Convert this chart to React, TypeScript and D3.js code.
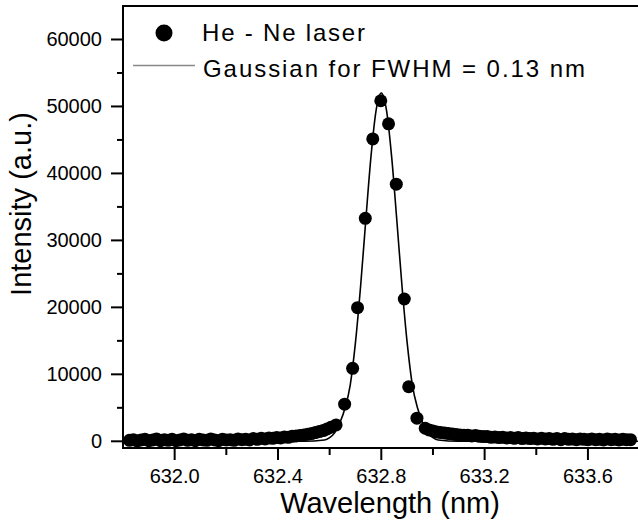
import React, {useEffect, useRef} from "react";
import * as d3 from "d3";

// He-Ne laser line, measured points (nm, counts)
const wavelength = [
    631.825, 631.840, 631.855, 631.870, 631.885, 631.900, 631.915, 631.930, 631.945, 631.960,
    631.975, 631.990, 632.005, 632.020, 632.035, 632.050, 632.065, 632.080, 632.095, 632.110,
    632.125, 632.140, 632.155, 632.170, 632.185, 632.200, 632.215, 632.230, 632.245, 632.260,
    632.275, 632.290, 632.305, 632.320, 632.335, 632.350, 632.365, 632.380, 632.395, 632.410,
    632.425, 632.440, 632.455, 632.470, 632.485, 632.500, 632.515, 632.530, 632.545, 632.560,
    632.575, 632.590, 632.605, 632.625,
    632.658, 632.689, 632.708, 632.738, 632.767, 632.798, 632.828, 632.858, 632.889, 632.906,
    632.938, 632.970,
    632.985, 633.000, 633.015, 633.030, 633.045, 633.060, 633.075, 633.090, 633.105, 633.120,
    633.135, 633.150, 633.165, 633.180, 633.195, 633.210, 633.225, 633.240, 633.255, 633.270,
    633.285, 633.300, 633.315, 633.330, 633.345, 633.360, 633.375, 633.390, 633.405, 633.420,
    633.435, 633.450, 633.465, 633.480, 633.495, 633.510, 633.525, 633.540, 633.555, 633.570,
    633.585, 633.600, 633.615, 633.630, 633.645, 633.660, 633.675, 633.690, 633.705, 633.720,
    633.735, 633.750, 633.765
];
const intensity = [
    150, 250, 50, 200, 300, 100, 200, 350, 100, 250,
    150, 300, 100, 200, 350, 150, 250, 100, 300, 200,
    150, 350, 200, 100, 300, 200, 250, 150, 350, 250,
    300, 200, 400, 300, 450, 350, 500, 450, 550, 500,
    650, 600, 750, 800, 850, 950, 1050, 1150, 1300, 1450,
    1600, 1850, 2100, 2450,
    5550, 10900, 19950, 33300, 45150, 50850, 47400, 38400, 21250, 8150,
    3450, 1950,
    1700, 1550, 1400, 1300, 1250, 1150, 1100, 1000, 950, 900,
    900, 800, 850, 750, 700, 700, 600, 650, 550, 600,
    500, 550, 450, 550, 400, 500, 400, 450, 350, 450,
    350, 400, 300, 400, 250, 400, 300, 350, 250, 350,
    300, 250, 350, 250, 300, 200, 350, 250, 300, 200,
    300, 250, 250
];

// Gaussian curve
const gaussWavelength = [
    631.80, 632.50, 632.58, 632.60, 632.62, 632.64, 632.66, 632.68, 632.70, 632.72,
    632.74, 632.76, 632.78, 632.80, 632.82, 632.84, 632.86, 632.88, 632.90, 632.92,
    632.94, 632.96, 632.98, 633.00, 633.02, 633.10, 633.80
];
const gaussIntensity = [
    0, 0, 200, 550, 1300, 2800, 5000, 8480, 14760, 23220,
    33050, 42500, 49450, 52000, 49450, 42500, 33050, 23220, 14760, 8480,
    5000, 2800, 1300, 550, 200, 0, 0
];

const xTicks = [632.0, 632.4, 632.8, 633.2, 633.6];
const xMinorTicks = [632.2, 632.6, 633.0, 633.4];
const yTicks = [0, 10000, 20000, 30000, 40000, 50000, 60000];
const yMinorTicks = [5000, 15000, 25000, 35000, 45000, 55000];

const FONT = "'Liberation Sans', Arial, Helvetica, sans-serif";

const App = () => {
    const ref = useRef<SVGSVGElement>(null);

    useEffect(() => {
        const w = 638;
        const h = 524;
        const svg = d3.select(ref.current);
        svg.selectAll("*").remove();
        svg.attr("width", w).attr("height", h);

        const left = 123, top = 6, bottom = 448, right = 639.6;

        const x = d3.scaleLinear().domain([631.8, 633.8]).range([left, right]);
        const y = d3.scaleLinear().domain([-1000, 65000]).range([bottom, top]);

        // gaussian line
        const line = d3.line<number>()
            .x((d, i) => x(gaussWavelength[i]))
            .y(d => y(d))
            .curve(d3.curveMonotoneX);
        svg.append("path")
            .attr("d", line(gaussIntensity))
            .attr("fill", "none")
            .attr("stroke", "#000")
            .attr("stroke-width", 1.6);

        // data points
        svg.selectAll("circle.pt")
            .data(intensity)
            .enter()
            .append("circle")
            .attr("class", "pt")
            .attr("cx", (d, i) => x(wavelength[i]))
            .attr("cy", d => y(d))
            .attr("r", 6.5)
            .attr("fill", "#000");

        // axes frame
        const axes = svg.append("g").attr("stroke", "#000").attr("stroke-width", 2);
        axes.append("line").attr("x1", left).attr("x2", w).attr("y1", top).attr("y2", top);
        axes.append("line").attr("x1", left).attr("x2", w).attr("y1", bottom).attr("y2", bottom);
        axes.append("line").attr("x1", left).attr("x2", left).attr("y1", top - 1).attr("y2", bottom + 1);

        // x ticks
        axes.selectAll("line.xt").data(xTicks).enter().append("line")
            .attr("x1", d => x(d)).attr("x2", d => x(d))
            .attr("y1", bottom).attr("y2", bottom + 12);
        axes.selectAll("line.xm").data(xMinorTicks).enter().append("line")
            .attr("x1", d => x(d)).attr("x2", d => x(d))
            .attr("y1", bottom).attr("y2", bottom + 7);
        svg.selectAll("text.xl").data(xTicks).enter().append("text")
            .attr("x", d => x(d)).attr("y", 483)
            .attr("text-anchor", "middle")
            .attr("font-family", FONT).attr("font-size", 20)
            .text(d => d.toFixed(1));

        // y ticks
        axes.selectAll("line.yt").data(yTicks).enter().append("line")
            .attr("x1", left - 12).attr("x2", left)
            .attr("y1", d => y(d)).attr("y2", d => y(d));
        axes.selectAll("line.ym").data(yMinorTicks).enter().append("line")
            .attr("x1", left - 6).attr("x2", left)
            .attr("y1", d => y(d)).attr("y2", d => y(d));
        svg.selectAll("text.yl").data(yTicks).enter().append("text")
            .attr("x", 102).attr("y", d => y(d) + 7)
            .attr("text-anchor", "end")
            .attr("font-family", FONT).attr("font-size", 20)
            .text(d => String(d));

        // axis titles
        svg.append("text")
            .attr("x", 390).attr("y", 513)
            .attr("text-anchor", "middle")
            .attr("font-family", FONT).attr("font-size", 29)
            .text("Wavelength (nm)");
        svg.append("text")
            .attr("transform", "translate(31,204) rotate(-90)")
            .attr("text-anchor", "middle")
            .attr("font-family", FONT).attr("font-size", 29)
            .text("Intensity (a.u.)");

        // legend
        svg.append("circle").attr("cx", 164).attr("cy", 33).attr("r", 8.5).attr("fill", "#000");
        svg.append("line")
            .attr("x1", 133).attr("x2", 195).attr("y1", 65.5).attr("y2", 65.5)
            .attr("stroke", "#888").attr("stroke-width", 1.5);
        svg.append("text")
            .attr("x", 202).attr("y", 41)
            .attr("font-family", FONT).attr("font-size", 24)
            .attr("textLength", 163).attr("lengthAdjust", "spacing")
            .text("He - Ne laser");
        svg.append("text")
            .attr("x", 203).attr("y", 77)
            .attr("font-family", FONT).attr("font-size", 24)
            .attr("textLength", 382).attr("lengthAdjust", "spacing")
            .text("Gaussian for FWHM = 0.13 nm");
    }, []);

    return (
        <svg ref={ref} style={{position: "absolute", left: 0, top: 0, background: "#fff"}}></svg>
    );
};

export default App;
